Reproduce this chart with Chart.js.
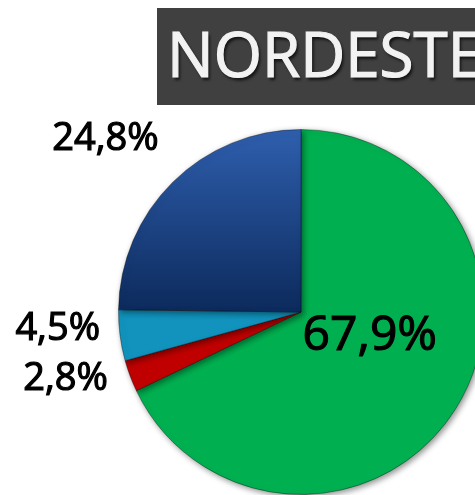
<!DOCTYPE html>
<html>
<head>
<meta charset="utf-8">
<script src="https://cdn.jsdelivr.net/npm/chart.js@4.4.1/dist/chart.umd.min.js"></script>
<style>
  html, body { margin: 0; padding: 0; background: #fff; overflow: hidden; width: 475px; height: 495px; }
  #wrap { position: absolute; left: 0; top: 0; width: 484px; height: 495px; }
  #title {
    position: absolute; left: 157px; top: 8px; width: 330px; height: 97px;
    background: #404040; color: #f2f2f2;
    font-family: "Open Sans", sans-serif; font-size: 62px;
    line-height: 97px; padding-left: 10px; box-sizing: border-box;
    -webkit-text-stroke: 1.2px #f2f2f2;
    text-shadow: 2px 3px 3px rgba(0,0,0,0.7);
    white-space: nowrap; overflow: hidden;
  }
  #title span { position: relative; top: -3px; }
</style>
</head>
<body>
<div id="wrap"><canvas id="chart"></canvas></div>
<div id="title"><span>NORDESTE</span></div>
<script>
// Dados
const regions = ['Verde', 'Vermelho', 'Azul claro', 'Azul escuro'];
const percentages = [67.9, 2.8, 4.5, 24.8];
const sliceColors = ['#00b050', '#c00000', '#1193bd', '#1f4690'];

// posição dos rótulos em relação ao centro (em raios)
const labelOffsets = [[0.377, 0.131], [-1.29, 0.366], [-1.333, 0.093], [-1.071, -0.945]];
const labelSizes = [48, 38, 38, 38];

function fmt(v) {
    return v.toFixed(1).replace('.', ',') + '%';
}

function sliceFill(context) {
    const chart = context.chart;
    const area = chart.chartArea;
    const i = context.dataIndex;
    if (!area) return sliceColors[i];
    if (i === 3) {
        const g = chart.ctx.createLinearGradient(0, area.top, 0, area.top + (area.bottom - area.top) / 2);
        g.addColorStop(0, '#2f5fae');
        g.addColorStop(1, '#0c2a5c');
        return g;
    }
    return sliceColors[i];
}

const pieShadow = {
    id: 'pieShadow',
    beforeDatasetsDraw(chart) {
        const ctx = chart.ctx;
        ctx.save();
        ctx.shadowColor = 'rgba(0,0,0,0.45)';
        ctx.shadowBlur = 6;
        ctx.shadowOffsetX = 2;
        ctx.shadowOffsetY = 2;
    },
    afterDatasetsDraw(chart) {
        chart.ctx.restore();
    }
};

const sliceLabels = {
    id: 'sliceLabels',
    afterDraw(chart) {
        const ctx = chart.ctx;
        const arc = chart.getDatasetMeta(0).data[0];
        const cx = arc.x, cy = arc.y, r = arc.outerRadius;
        ctx.save();
        ctx.fillStyle = '#000';
        ctx.strokeStyle = '#000';
        ctx.lineWidth = 1.2;
        ctx.textAlign = 'center';
        ctx.textBaseline = 'middle';
        percentages.forEach((v, i) => {
            const x = cx + labelOffsets[i][0] * r;
            const y = cy + labelOffsets[i][1] * r;
            ctx.font = labelSizes[i] + 'px "Open Sans"';
            ctx.fillText(fmt(v), x, y);
            ctx.strokeText(fmt(v), x, y);
        });
        ctx.restore();
    }
};

new Chart(document.getElementById('chart').getContext('2d'), {
    type: 'pie',
    data: {
        labels: regions,
        datasets: [{
            data: percentages,
            backgroundColor: sliceFill,
            borderColor: 'rgba(0,0,0,0.35)',
            borderWidth: 1
        }]
    },
    options: {
        responsive: true,
        maintainAspectRatio: false,
        animation: false,
        layout: { padding: { left: 118, top: 129, right: 0, bottom: 0 } },
        plugins: {
            legend: { display: false },
            tooltip: { enabled: false }
        }
    },
    plugins: [pieShadow, sliceLabels]
});
</script>
</body>
</html>
